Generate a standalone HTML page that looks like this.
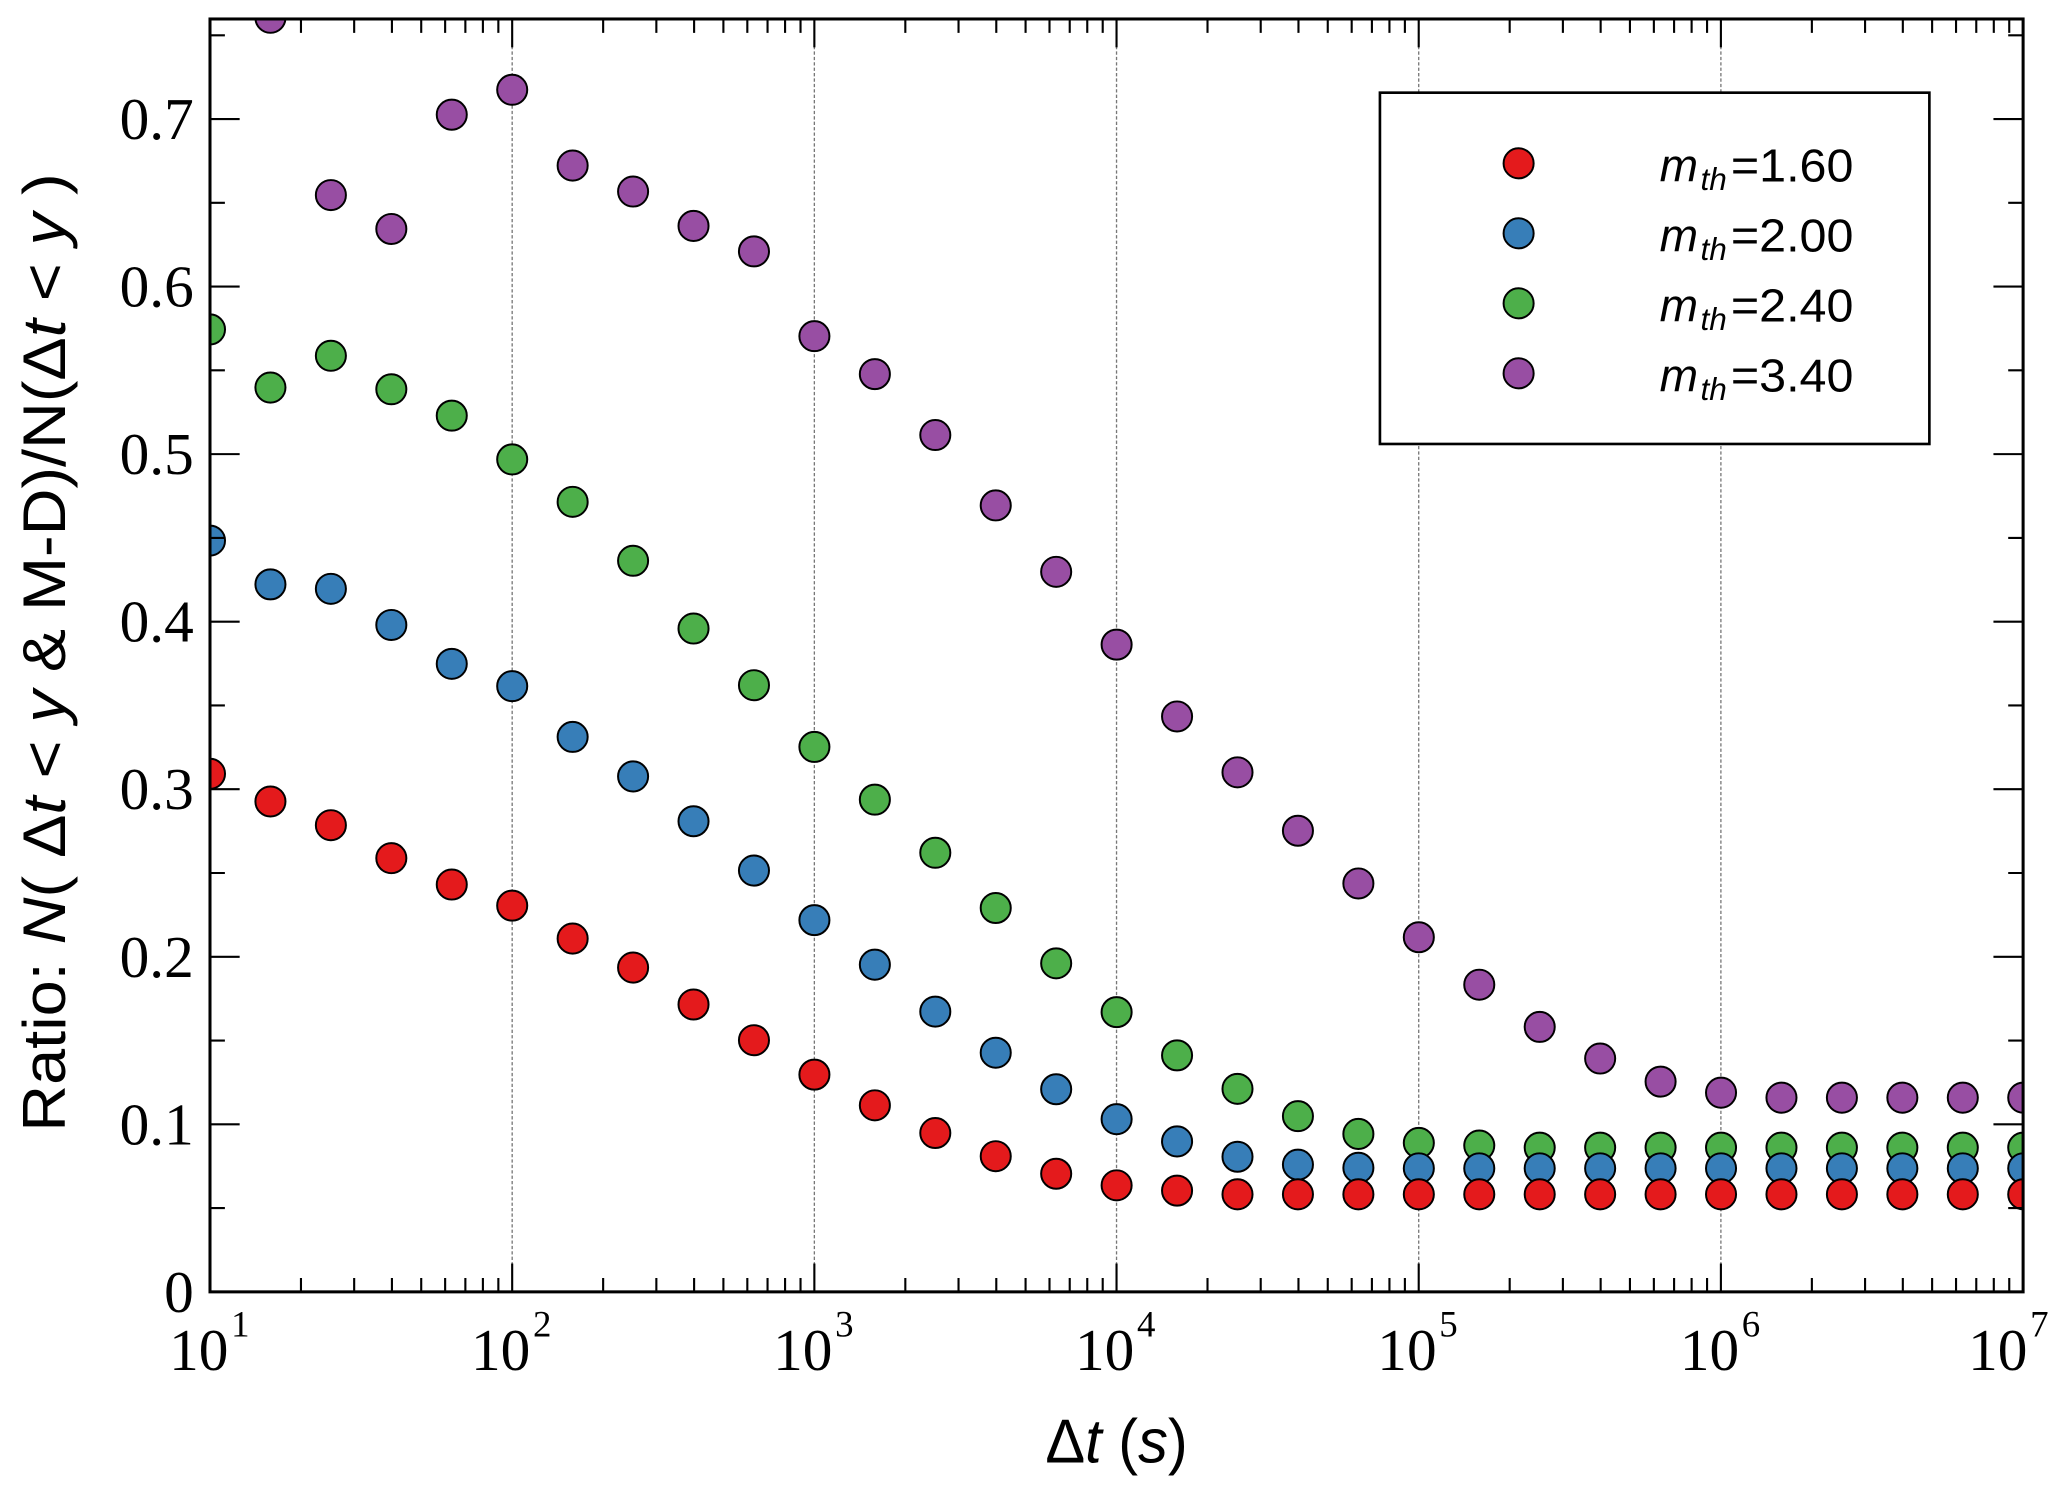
<!DOCTYPE html>
<html>
<head>
<meta charset="utf-8">
<style>
html,body{margin:0;padding:0;background:#fff;overflow:hidden;}
svg{display:block;}
</style>
</head>
<body>
<svg xmlns="http://www.w3.org/2000/svg" width="2067" height="1495" viewBox="0 0 1568 1134.1" preserveAspectRatio="none">
<defs>
<clipPath id="ax"><rect x="159.3" y="14.4" width="1375.4" height="965.6"/></clipPath>
</defs>
<rect x="0" y="0" width="1568" height="1134.1" fill="#fff"/>

<!-- gridlines -->
<g stroke="#777" stroke-width="1" stroke-dasharray="2.5 1.6" fill="none">
<path d="M388.53 14.4V980M617.76 14.4V980M846.99 14.4V980M1076.22 14.4V980M1305.45 14.4V980"/>
</g>

<!-- markers -->
<g clip-path="url(#ax)" stroke="#000" stroke-width="1.5">
<g fill="#984ea3">
<circle cx="205.15" cy="13.5" r="11.4"/>
<circle cx="251.0" cy="148" r="11.4"/>
<circle cx="296.85" cy="173.7" r="11.4"/>
<circle cx="342.7" cy="87" r="11.4"/>
<circle cx="388.55" cy="68.1" r="11.4"/>
<circle cx="434.4" cy="125.6" r="11.4"/>
<circle cx="480.25" cy="145.3" r="11.4"/>
<circle cx="526.1" cy="171.4" r="11.4"/>
<circle cx="571.95" cy="190.7" r="11.4"/>
<circle cx="617.8" cy="255" r="11.4"/>
<circle cx="663.65" cy="283.8" r="11.4"/>
<circle cx="709.5" cy="330" r="11.4"/>
<circle cx="755.35" cy="383.4" r="11.4"/>
<circle cx="801.2" cy="433.8" r="11.4"/>
<circle cx="847.05" cy="489" r="11.4"/>
<circle cx="892.9" cy="543.5" r="11.4"/>
<circle cx="938.75" cy="585.9" r="11.4"/>
<circle cx="984.6" cy="630.2" r="11.4"/>
<circle cx="1030.45" cy="670.2" r="11.4"/>
<circle cx="1076.3" cy="711" r="11.4"/>
<circle cx="1122.15" cy="747" r="11.4"/>
<circle cx="1168.0" cy="779" r="11.4"/>
<circle cx="1213.85" cy="803" r="11.4"/>
<circle cx="1259.7" cy="820.5" r="11.4"/>
<circle cx="1305.55" cy="828.9" r="11.4"/>
<circle cx="1351.4" cy="832.7" r="11.4"/>
<circle cx="1397.25" cy="832.7" r="11.4"/>
<circle cx="1443.1" cy="832.7" r="11.4"/>
<circle cx="1488.95" cy="832.7" r="11.4"/>
<circle cx="1534.8" cy="832.7" r="11.4"/>
</g>
<g fill="#4daf4a">
<circle cx="159.3" cy="249.9" r="11.4"/>
<circle cx="205.15" cy="294" r="11.4"/>
<circle cx="251.0" cy="269.9" r="11.4"/>
<circle cx="296.85" cy="295.3" r="11.4"/>
<circle cx="342.7" cy="315.3" r="11.4"/>
<circle cx="388.55" cy="348.5" r="11.4"/>
<circle cx="434.4" cy="380.7" r="11.4"/>
<circle cx="480.25" cy="425.4" r="11.4"/>
<circle cx="526.1" cy="476.8" r="11.4"/>
<circle cx="571.95" cy="519.8" r="11.4"/>
<circle cx="617.8" cy="566.6" r="11.4"/>
<circle cx="663.65" cy="606.6" r="11.4"/>
<circle cx="709.5" cy="646.9" r="11.4"/>
<circle cx="755.35" cy="688.8" r="11.4"/>
<circle cx="801.2" cy="730.8" r="11.4"/>
<circle cx="847.05" cy="767.8" r="11.4"/>
<circle cx="892.9" cy="800.6" r="11.4"/>
<circle cx="938.75" cy="826" r="11.4"/>
<circle cx="984.6" cy="846.7" r="11.4"/>
<circle cx="1030.45" cy="860.2" r="11.4"/>
<circle cx="1076.3" cy="867" r="11.4"/>
<circle cx="1122.15" cy="869" r="11.4"/>
<circle cx="1168.0" cy="870.6" r="11.4"/>
<circle cx="1213.85" cy="870.6" r="11.4"/>
<circle cx="1259.7" cy="870.6" r="11.4"/>
<circle cx="1305.55" cy="870.6" r="11.4"/>
<circle cx="1351.4" cy="870.6" r="11.4"/>
<circle cx="1397.25" cy="870.6" r="11.4"/>
<circle cx="1443.1" cy="870.6" r="11.4"/>
<circle cx="1488.95" cy="870.6" r="11.4"/>
<circle cx="1534.8" cy="870.6" r="11.4"/>
</g>
<g fill="#377eb8">
<circle cx="159.3" cy="410.1" r="11.4"/>
<circle cx="205.15" cy="443.3" r="11.4"/>
<circle cx="251.0" cy="446.7" r="11.4"/>
<circle cx="296.85" cy="474.1" r="11.4"/>
<circle cx="342.7" cy="503.6" r="11.4"/>
<circle cx="388.55" cy="520.5" r="11.4"/>
<circle cx="434.4" cy="559" r="11.4"/>
<circle cx="480.25" cy="589" r="11.4"/>
<circle cx="526.1" cy="623" r="11.4"/>
<circle cx="571.95" cy="660.4" r="11.4"/>
<circle cx="617.8" cy="698" r="11.4"/>
<circle cx="663.65" cy="731.8" r="11.4"/>
<circle cx="709.5" cy="767.4" r="11.4"/>
<circle cx="755.35" cy="798.6" r="11.4"/>
<circle cx="801.2" cy="826.3" r="11.4"/>
<circle cx="847.05" cy="849" r="11.4"/>
<circle cx="892.9" cy="865.9" r="11.4"/>
<circle cx="938.75" cy="877.5" r="11.4"/>
<circle cx="984.6" cy="883.5" r="11.4"/>
<circle cx="1030.45" cy="885.9" r="11.4"/>
<circle cx="1076.3" cy="886.3" r="11.4"/>
<circle cx="1122.15" cy="886.3" r="11.4"/>
<circle cx="1168.0" cy="886.3" r="11.4"/>
<circle cx="1213.85" cy="886.3" r="11.4"/>
<circle cx="1259.7" cy="886.3" r="11.4"/>
<circle cx="1305.55" cy="886.3" r="11.4"/>
<circle cx="1351.4" cy="886.3" r="11.4"/>
<circle cx="1397.25" cy="886.3" r="11.4"/>
<circle cx="1443.1" cy="886.3" r="11.4"/>
<circle cx="1488.95" cy="886.3" r="11.4"/>
<circle cx="1534.8" cy="886.3" r="11.4"/>
</g>
<g fill="#e41a1c">
<circle cx="159.3" cy="587" r="11.4"/>
<circle cx="205.15" cy="608" r="11.4"/>
<circle cx="251.0" cy="626" r="11.4"/>
<circle cx="296.85" cy="651" r="11.4"/>
<circle cx="342.7" cy="671" r="11.4"/>
<circle cx="388.55" cy="687" r="11.4"/>
<circle cx="434.4" cy="712" r="11.4"/>
<circle cx="480.25" cy="734" r="11.4"/>
<circle cx="526.1" cy="762" r="11.4"/>
<circle cx="571.95" cy="789.1" r="11.4"/>
<circle cx="617.8" cy="815.2" r="11.4"/>
<circle cx="663.65" cy="838.5" r="11.4"/>
<circle cx="709.5" cy="859.5" r="11.4"/>
<circle cx="755.35" cy="877.1" r="11.4"/>
<circle cx="801.2" cy="890.4" r="11.4"/>
<circle cx="847.05" cy="899.2" r="11.4"/>
<circle cx="892.9" cy="903.2" r="11.4"/>
<circle cx="938.75" cy="906" r="11.4"/>
<circle cx="984.6" cy="906" r="11.4"/>
<circle cx="1030.45" cy="906" r="11.4"/>
<circle cx="1076.3" cy="906" r="11.4"/>
<circle cx="1122.15" cy="906" r="11.4"/>
<circle cx="1168.0" cy="906" r="11.4"/>
<circle cx="1213.85" cy="906" r="11.4"/>
<circle cx="1259.7" cy="906" r="11.4"/>
<circle cx="1305.55" cy="906" r="11.4"/>
<circle cx="1351.4" cy="906" r="11.4"/>
<circle cx="1397.25" cy="906" r="11.4"/>
<circle cx="1443.1" cy="906" r="11.4"/>
<circle cx="1488.95" cy="906" r="11.4"/>
<circle cx="1534.8" cy="906" r="11.4"/>
</g>
</g>

<!-- ticks -->
<g stroke="#000" stroke-width="1.6" fill="none">
<!-- x major bottom/top -->
<path d="M388.53 980v-21.5M617.76 980v-21.5M846.99 980v-21.5M1076.22 980v-21.5M1305.45 980v-21.5
M388.53 14.4v21.5M617.76 14.4v21.5M846.99 14.4v21.5M1076.22 14.4v21.5M1305.45 14.4v21.5"/>
<!-- x minor bottom -->
<path d="M228.31 980v-10.5M268.67 980v-10.5M297.31 980v-10.5M319.53 980v-10.5M337.68 980v-10.5M353.02 980v-10.5M366.32 980v-10.5M378.04 980v-10.5
M457.54 980v-10.5M497.90 980v-10.5M526.54 980v-10.5M548.76 980v-10.5M566.91 980v-10.5M582.25 980v-10.5M595.55 980v-10.5M607.27 980v-10.5
M686.77 980v-10.5M727.13 980v-10.5M755.77 980v-10.5M777.99 980v-10.5M796.14 980v-10.5M811.48 980v-10.5M824.78 980v-10.5M836.50 980v-10.5
M916.00 980v-10.5M956.36 980v-10.5M985.00 980v-10.5M1007.22 980v-10.5M1025.37 980v-10.5M1040.71 980v-10.5M1054.01 980v-10.5M1065.73 980v-10.5
M1145.23 980v-10.5M1185.59 980v-10.5M1214.23 980v-10.5M1236.45 980v-10.5M1254.60 980v-10.5M1269.94 980v-10.5M1283.24 980v-10.5M1294.96 980v-10.5
M1374.46 980v-10.5M1414.82 980v-10.5M1443.46 980v-10.5M1465.68 980v-10.5M1483.83 980v-10.5M1499.17 980v-10.5M1512.47 980v-10.5M1524.19 980v-10.5"/>
<!-- x minor top -->
<path d="M228.31 14.4v10.5M268.67 14.4v10.5M297.31 14.4v10.5M319.53 14.4v10.5M337.68 14.4v10.5M353.02 14.4v10.5M366.32 14.4v10.5M378.04 14.4v10.5
M457.54 14.4v10.5M497.90 14.4v10.5M526.54 14.4v10.5M548.76 14.4v10.5M566.91 14.4v10.5M582.25 14.4v10.5M595.55 14.4v10.5M607.27 14.4v10.5
M686.77 14.4v10.5M727.13 14.4v10.5M755.77 14.4v10.5M777.99 14.4v10.5M796.14 14.4v10.5M811.48 14.4v10.5M824.78 14.4v10.5M836.50 14.4v10.5
M916.00 14.4v10.5M956.36 14.4v10.5M985.00 14.4v10.5M1007.22 14.4v10.5M1025.37 14.4v10.5M1040.71 14.4v10.5M1054.01 14.4v10.5M1065.73 14.4v10.5
M1145.23 14.4v10.5M1185.59 14.4v10.5M1214.23 14.4v10.5M1236.45 14.4v10.5M1254.60 14.4v10.5M1269.94 14.4v10.5M1283.24 14.4v10.5M1294.96 14.4v10.5
M1374.46 14.4v10.5M1414.82 14.4v10.5M1443.46 14.4v10.5M1465.68 14.4v10.5M1483.83 14.4v10.5M1499.17 14.4v10.5M1512.47 14.4v10.5M1524.19 14.4v10.5"/>
<!-- y major left/right -->
<path d="M159.3 852.9h22.5M159.3 725.8h22.5M159.3 598.7h22.5M159.3 471.6h22.5M159.3 344.5h22.5M159.3 217.4h22.5M159.3 90.3h22.5
M1534.7 852.9h-22.5M1534.7 725.8h-22.5M1534.7 598.7h-22.5M1534.7 471.6h-22.5M1534.7 344.5h-22.5M1534.7 217.4h-22.5M1534.7 90.3h-22.5"/>
<!-- y minor left/right -->
<path d="M159.3 916.45h11.3M159.3 789.35h11.3M159.3 662.25h11.3M159.3 535.15h11.3M159.3 408.05h11.3M159.3 280.95h11.3M159.3 153.85h11.3M159.3 26.75h11.3
M1534.7 916.45h-11.3M1534.7 789.35h-11.3M1534.7 662.25h-11.3M1534.7 535.15h-11.3M1534.7 408.05h-11.3M1534.7 280.95h-11.3M1534.7 153.85h-11.3M1534.7 26.75h-11.3"/>
</g>

<!-- frame -->
<rect x="159.3" y="14.4" width="1375.4" height="965.6" fill="none" stroke="#000" stroke-width="2.3"/>

<!-- y tick labels -->
<g font-family="'Liberation Serif', serif" font-size="45" fill="#000" text-anchor="end">
<text x="147" y="995.2">0</text>
<text x="147" y="868.1">0.1</text>
<text x="147" y="741.0">0.2</text>
<text x="147" y="613.9">0.3</text>
<text x="147" y="486.8">0.4</text>
<text x="147" y="359.7">0.5</text>
<text x="147" y="232.6">0.6</text>
<text x="147" y="105.5">0.7</text>
</g>

<!-- x tick labels -->
<g font-family="'Liberation Serif', serif" font-size="45" fill="#000">
<text x="128.3" y="1039.3">10<tspan font-size="28" dx="2" dy="-25.3">1</tspan></text>
<text x="357.3" y="1039.3">10<tspan font-size="28" dx="2" dy="-25.3">2</tspan></text>
<text x="586.5" y="1039.3">10<tspan font-size="28" dx="2" dy="-25.3">3</tspan></text>
<text x="815.5" y="1039.3">10<tspan font-size="28" dx="2" dy="-25.3">4</tspan></text>
<text x="1044.8" y="1039.3">10<tspan font-size="28" dx="2" dy="-25.3">5</tspan></text>
<text x="1274.3" y="1039.3">10<tspan font-size="28" dx="2" dy="-25.3">6</tspan></text>
<text x="1493" y="1039.3">10<tspan font-size="28" dx="2" dy="-25.3">7</tspan></text>
</g>

<!-- axis labels -->
<text x="793" y="1109.6" font-family="'Liberation Sans', sans-serif" font-size="47" fill="#000" textLength="108" lengthAdjust="spacingAndGlyphs">Δ<tspan font-style="italic">t</tspan> (<tspan font-style="italic">s</tspan>)</text>

<text transform="translate(49.3,858.5) rotate(-90)" x="0" y="0" font-family="'Liberation Sans', sans-serif" font-size="46" fill="#000" textLength="727" lengthAdjust="spacingAndGlyphs">Ratio: <tspan font-style="italic">N</tspan>( Δ<tspan font-style="italic">t</tspan> &lt; <tspan font-style="italic">y</tspan> &amp; M-D)/N(Δ<tspan font-style="italic">t</tspan> &lt; <tspan font-style="italic">y</tspan> )</text>

<!-- legend -->
<rect x="1046.8" y="70.3" width="416.8" height="266.5" fill="#fff" stroke="#000" stroke-width="2"/>
<g stroke="#000" stroke-width="1.5">
<circle cx="1152" cy="123.9" r="11.4" fill="#e41a1c"/>
<circle cx="1152" cy="177.0" r="11.4" fill="#377eb8"/>
<circle cx="1152" cy="230.1" r="11.4" fill="#4daf4a"/>
<circle cx="1152" cy="283.2" r="11.4" fill="#984ea3"/>
</g>
<g font-family="'Liberation Sans', sans-serif" fill="#000">
<text x="1259" y="137.8" font-size="35" font-style="italic">m</text>
<text x="1290" y="144" font-size="24" font-style="italic">th</text>
<text x="1313" y="137.8" font-size="35" textLength="93" lengthAdjust="spacingAndGlyphs">=1.60</text>

<text x="1259" y="190.9" font-size="35" font-style="italic">m</text>
<text x="1290" y="197.1" font-size="24" font-style="italic">th</text>
<text x="1313" y="190.9" font-size="35" textLength="93" lengthAdjust="spacingAndGlyphs">=2.00</text>

<text x="1259" y="244.0" font-size="35" font-style="italic">m</text>
<text x="1290" y="250.2" font-size="24" font-style="italic">th</text>
<text x="1313" y="244.0" font-size="35" textLength="93" lengthAdjust="spacingAndGlyphs">=2.40</text>

<text x="1259" y="297.1" font-size="35" font-style="italic">m</text>
<text x="1290" y="303.3" font-size="24" font-style="italic">th</text>
<text x="1313" y="297.1" font-size="35" textLength="93" lengthAdjust="spacingAndGlyphs">=3.40</text>
</g>
</svg>
</body>
</html>
